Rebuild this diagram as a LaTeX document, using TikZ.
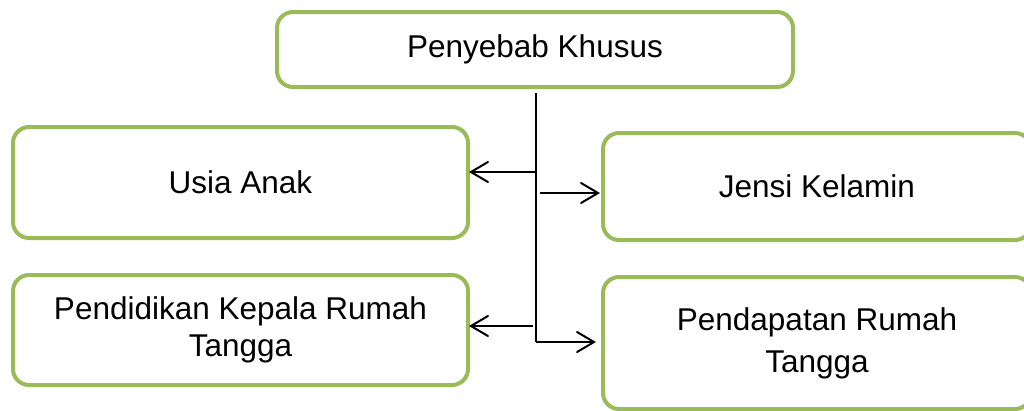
\documentclass[tikz,border=0pt]{standalone}
\usepackage{fontspec}
\setmainfont{Liberation Sans}
\usetikzlibrary{arrows.meta}
\definecolor{boxgreen}{HTML}{9BBB59}
\tikzset{
  box/.style={draw=boxgreen, line width=4pt, rounded corners=16pt, fill=white,
    inner sep=0pt, align=center, font=\fontsize{31.5}{37}\selectfont},
  arr/.style={draw=black, line width=2pt, -{Straight Barb[length=17pt,width=20pt,line cap=round]}},
  conn/.style={draw=black, line width=2pt}
}
\begin{document}
\begin{tikzpicture}[x=1pt,y=-1pt]
\useasboundingbox (0,0) rectangle (1024,410);
\clip (0,0) rectangle (1024,410);
\node[box, minimum width=516pt, minimum height=75pt] (top) at (535,49.5) {Penyebab Khusus};
\node[box, minimum width=455pt, minimum height=111pt] (l1) at (240.5,182.5) {Usia Anak};
\node[box, minimum width=455pt, minimum height=110pt] (l2) at (240.5,330) {Pendidikan Kepala Rumah\\Tangga};
\node[box, minimum width=428pt, minimum height=107pt] (r1) at (817,186.5) {Jensi Kelamin};
\node[box, minimum width=428pt, minimum height=132pt, font=\fontsize{31.5}{42}\selectfont] (r2) at (817,343) {Pendapatan Rumah\\Tangga};
\coordinate (v0) at (536,93);
\coordinate (v1) at (536,342);
\coordinate (b1) at (536,172);
\coordinate (b2) at (540,193);
\coordinate (b3) at (533,326);
\draw[conn] (v0) -- (v1);
\draw[arr, shorten >=-1pt] (b1) -- (b1 -| l1.east);
\draw[arr, shorten >=1pt] (b2) -- (b2 -| r1.west);
\draw[arr, shorten >=-1pt] (b3) -- (b3 -| l2.east);
\draw[arr, shorten >=5pt] (v1) -- (v1 -| r2.west);
\end{tikzpicture}
\end{document}
